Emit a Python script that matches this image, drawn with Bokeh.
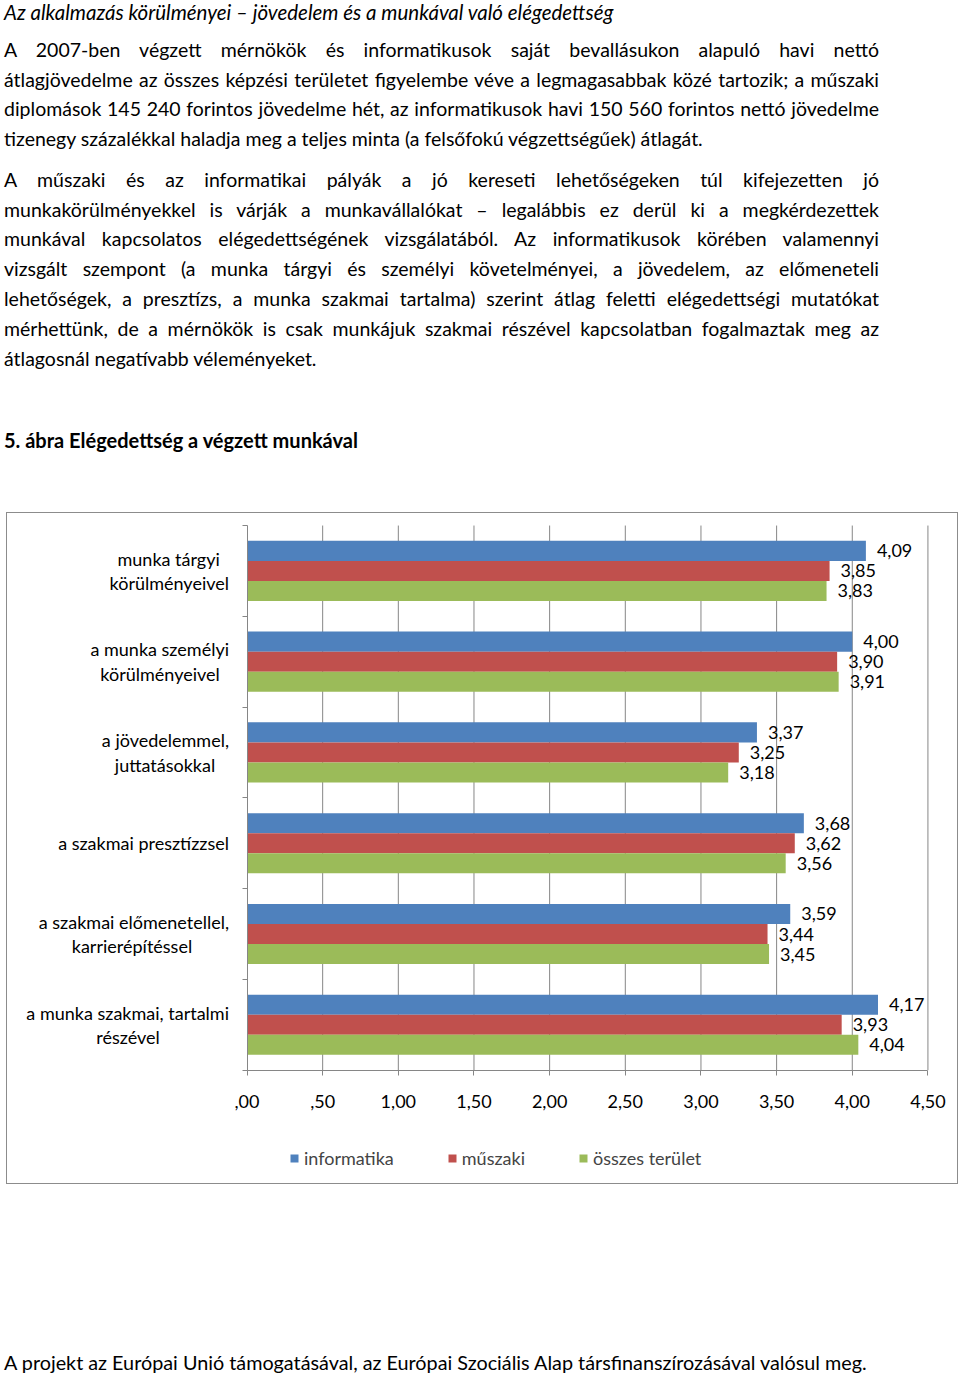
import html
import unicodedata
from bokeh.plotting import figure
from bokeh.models import Range1d, FixedTicker, ColumnDataSource, Legend, LegendItem, Div
from bokeh.layouts import column
from bokeh.embed import file_html
from bokeh.resources import INLINE
from bokeh.core.properties import value

FONT = "Lato"

# ---------------- text content ----------------
title_text = "Az alkalmazás körülményei – jövedelem és a munkával való elégedettség"
para1 = [
    "A 2007-ben végzett mérnökök és informatikusok saját bevallásukon alapuló havi nettó",
    "átlagjövedelme az összes képzési területet figyelembe véve a legmagasabbak közé tartozik; a műszaki",
    "diplomások 145 240 forintos jövedelme hét, az informatikusok havi 150 560 forintos nettó jövedelme",
    "tizenegy százalékkal haladja meg a teljes minta (a felsőfokú végzettségűek) átlagát.",
]
para2 = [
    "A műszaki és az informatikai pályák a jó kereseti lehetőségeken túl kifejezetten jó",
    "munkakörülményekkel is várják a munkavállalókat – legalábbis ez derül ki a megkérdezettek",
    "munkával kapcsolatos elégedettségének vizsgálatából. Az informatikusok körében valamennyi",
    "vizsgált szempont (a munka tárgyi és személyi követelményei, a jövedelem, az előmeneteli",
    "lehetőségek, a presztízs, a munka szakmai tartalma) szerint átlag feletti elégedettségi mutatókat",
    "mérhettünk, de a mérnökök is csak munkájuk szakmai részével kapcsolatban fogalmaztak meg az",
    "átlagosnál negatívabb véleményeket.",
]
caption_text = "5. ábra Elégedettség a végzett munkával"
footer_text = "A projekt az Európai Unió támogatásával, az Európai Szociális Alap társfinanszírozásával valósul meg."

# ---------------- chart data ----------------
categories = [
    "munka tárgyi\nkörülményeivel",
    "a munka személyi\nkörülményeivel",
    "a jövedelemmel,\njuttatásokkal",
    "a szakmai presztízzsel",
    "a szakmai előmenetellel,\nkarrierépítéssel",
    "a munka szakmai, tartalmi\nrészével",
]
series_names = ["informatika", "műszaki", "összes terület"]
informatika = [4.09, 4.00, 3.37, 3.68, 3.59, 4.17]
muszaki = [3.85, 3.90, 3.25, 3.62, 3.44, 3.93]
osszes = [3.83, 3.91, 3.18, 3.56, 3.45, 4.04]
x_ticks = [0.0, 0.5, 1.0, 1.5, 2.0, 2.5, 3.0, 3.5, 4.0, 4.5]
x_tick_labels = [",00", ",50", "1,00", "1,50", "2,00", "2,50", "3,00", "3,50", "4,00", "4,50"]
colors = ["#4F81BD", "#C0504D", "#9BBB59"]
GRAY = "#868686"

# ---------------- helpers ----------------
_W = dict(a=.50, b=.56, c=.46, d=.56, e=.52, f=.31, g=.50, h=.56, i=.24, j=.24, k=.49, l=.24,
          m=.84, n=.56, o=.55, p=.56, q=.56, r=.36, s=.42, t=.34, u=.56, v=.50, w=.76, x=.48,
          y=.50, z=.45)
_W.update({" ": .19, ",": .22, ".": .22, ";": .24, "(": .31, ")": .31, "–": .52, "-": .34})
NBSP_EM = 0.25


def est_width(s):
    tot = 0.0
    for ch in s:
        base = unicodedata.normalize("NFD", ch)[0]
        if base in _W:
            tot += _W[base]
        elif base.isdigit():
            tot += .58
        elif base.isupper():
            tot += .62
        else:
            tot += .5
    return tot


def centered_lines(label):
    """Pad shorter lines with no-break spaces so a right-aligned block looks centred."""
    lines = label.split("\n")
    if len(lines) == 1:
        return label
    widths = [est_width(s) for s in lines]
    wmax = max(widths)
    out = []
    for s, w in zip(lines, widths):
        pad = int(round((wmax - w) / 2 / NBSP_EM))
        out.append(s + "\u00a0" * pad)
    return "\n".join(out)


ASC = 0.987   # Lato ascent (em)


def line_html(text, left, baseline, size, width=None, justify=False, extra=""):
    top = max(0.0, baseline - ASC * size)
    st = (f"position:absolute;left:{left}px;top:{top:.1f}px;font-size:{size}px;"
          f"line-height:{1.2 * size:.2f}px;white-space:nowrap;")
    if justify:
        st += f"width:{width}px;text-align:justify;text-align-last:justify;"
    return f'<div style="{st}{extra}">{html.escape(text)}</div>'


PARA_SIZE = 19.5
LEFT, RIGHT = 4, 879
LINE_GAP = 29.8

parts = [line_html(title_text, LEFT, 20.5, 20.5, extra="font-style:italic;")]
for para, b0 in [(para1, 57), (para2, 187)]:
    for li, line in enumerate(para):
        last = li == len(para) - 1
        parts.append(line_html(line, LEFT, b0 + li * LINE_GAP, PARA_SIZE,
                               width=RIGHT - LEFT, justify=not last))
parts.append(line_html(caption_text, LEFT, 448, 20, extra="font-weight:bold;"))

TOP_H = 512
top_div = Div(text=(f'<div style="position:relative;width:960px;height:{TOP_H}px;'
                    f'font-family:{FONT};color:#000;">' + "".join(parts) + "</div>"),
              width=960, height=TOP_H, margin=0)

# ---------------- chart ----------------
n = len(categories)
centers = [n - i - 0.5 for i in range(n)]
bar_h = 0.221

BOX_W, BOX_H = 952, 672            # outer size incl. 1px border
CW, CH = BOX_W - 2, BOX_H - 2      # drawing area
X0_PX, PX_PER_X = 239, 679.5 / 4.5  # x=0 position and pixels per unit
Y_TOP_PX, PX_PER_ROW = 12, 543.0 / n  # top of category area and pixels per row

x_range = Range1d(-X0_PX / PX_PER_X, (CW - X0_PX) / PX_PER_X)
y_range = Range1d(-(CH - Y_TOP_PX - n * PX_PER_ROW) / PX_PER_ROW, n + Y_TOP_PX / PX_PER_ROW)

cf = figure(width=BOX_W, height=BOX_H, x_range=x_range, y_range=y_range,
            output_backend="svg", toolbar_location=None, min_border=0,
            margin=(0, 0, 0, 6), styles={"border": "1px solid #8c8c8c"})
cf.outline_line_color = None
cf.grid.visible = False

# vertical grid lines limited to the category area
cf.segment(x0=x_ticks[1:], y0=[0] * (len(x_ticks) - 1), x1=x_ticks[1:], y1=[n] * (len(x_ticks) - 1),
           line_color=GRAY, line_width=1)

xa = cf.xaxis[0]
xa.fixed_location = 0
xa.bounds = (0, 4.5)
xa.ticker = FixedTicker(ticks=x_ticks)
xa.major_label_overrides = dict(zip(x_ticks, x_tick_labels))
xa.axis_line_color = GRAY
xa.major_tick_line_color = GRAY
xa.major_tick_out = 5
xa.major_tick_in = 0
xa.minor_tick_line_color = None
xa.major_label_standoff = 20
xa.major_label_text_font = FONT
xa.major_label_text_font_size = "18px"
xa.major_label_text_color = "black"

ya = cf.yaxis[0]
ya.fixed_location = 0
ya.bounds = (0, n)
ya.ticker = FixedTicker(ticks=centers, minor_ticks=list(range(n + 1)))
ya.major_label_overrides = {c: centered_lines(lab) for c, lab in zip(centers, categories)}
ya.axis_line_color = GRAY
ya.major_tick_out = 0
ya.major_tick_in = 0
ya.major_tick_line_color = None
ya.minor_tick_out = 5
ya.minor_tick_in = 0
ya.minor_tick_line_color = GRAY
ya.major_label_standoff = 13
ya.major_label_text_font = FONT
ya.major_label_text_font_size = "18px"
ya.major_label_text_line_height = 1.11
ya.major_label_text_color = "black"

renderers = []
for k, vals in enumerate([informatika, muszaki, osszes]):
    ys = [c + (1 - k) * bar_h for c in centers]
    src = ColumnDataSource(dict(y=ys, right=vals,
                                label=[f"{v:.2f}".replace(".", ",") for v in vals]))
    r = cf.hbar(y="y", left=0, right="right", height=bar_h, source=src,
                fill_color=colors[k], line_color=None)
    renderers.append(r)
    cf.text(x="right", y="y", text="label", source=src, x_offset=11,
            text_baseline="middle", text_align="left", text_font=value(FONT),
            text_font_size="18px", text_color="black")

legend = Legend(items=[LegendItem(label=nm, renderers=[r]) for nm, r in zip(series_names, renderers)],
                orientation="horizontal", location=(282, 16), glyph_width=10, glyph_height=10,
                label_standoff=5, spacing=53, padding=0, margin=0, border_line_color=None,
                background_fill_alpha=0, label_text_font=FONT, label_text_font_size="18px",
                label_height=20)
cf.add_layout(legend, "center")

# ---------------- footer ----------------
FOOT_H = 193
foot_div = Div(text=(f'<div style="position:relative;width:960px;height:{FOOT_H}px;'
                     f'font-family:{FONT};color:#000;">'
                     + line_html(footer_text, LEFT, 1370 - 1184, 19.8) + "</div>"),
               width=960, height=FOOT_H, margin=0)

page = column(top_div, cf, foot_div, spacing=0)
open("out.html", "w").write(file_html(page, INLINE))
